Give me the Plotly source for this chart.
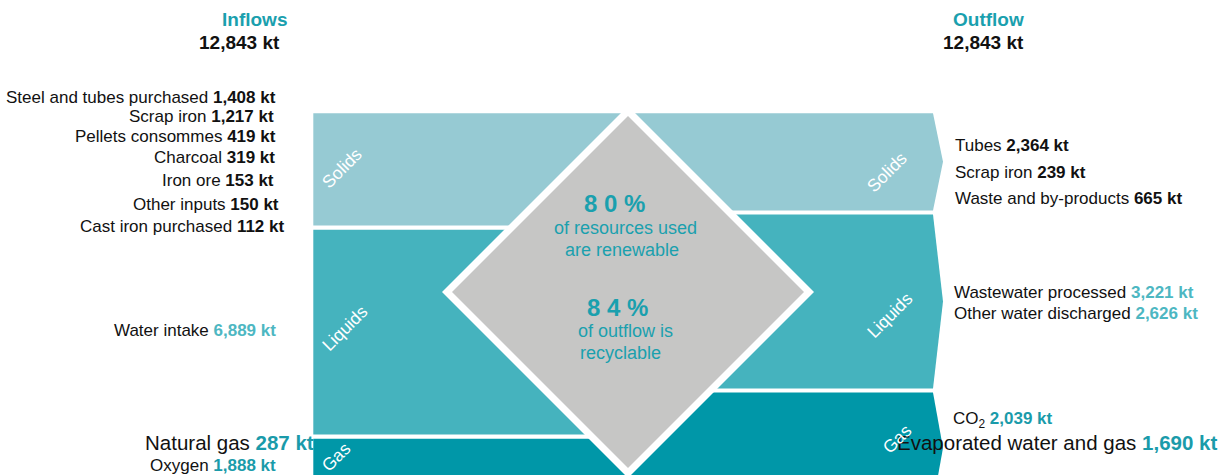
import plotly.graph_objects as go

# ---- Material balance (kt) ----
band_names = ["Solids", "Liquids", "Gas"]

solid_in_labels = ["Steel and tubes purchased", "Scrap iron", "Pellets consommes",
                   "Charcoal", "Iron ore", "Other inputs", "Cast iron purchased"]
solid_in_values = [1408, 1217, 419, 319, 153, 150, 112]
liquid_in_labels = ["Water intake"]
liquid_in_values = [6889]
gas_in_labels = ["Natural gas", "Oxygen"]
gas_in_values = [287, 1888]

solid_out_labels = ["Tubes", "Scrap iron", "Waste and by-products"]
solid_out_values = [2364, 239, 665]
liquid_out_labels = ["Wastewater processed", "Other water discharged"]
liquid_out_values = [3221, 2626]
gas_out_labels = ["CO<sub>2</sub>", "Evaporated water and gas"]
gas_out_values = [2039, 1690]

total_inflows = 12843
total_outflow = 12843
renewable_pct = 80
recyclable_pct = 84

# ---- Styling / layout ----
W, H = 1228, 475
FONT = "Liberation Sans, Arial, sans-serif"
BAND_COLORS = ["#96CAD3", "#45B3BE", "#0097A8"]
VALUE_COLORS = ["#111111", "#4DB7C2", "#1A9BAA"]
TEAL = "#1AA0AE"
GREY = "#C6C6C5"

PX_PER_KT = 0.02972          # band thickness per kt
TOP_PX = 113.3               # top of the band stacks
GAP_PX = 4.2                 # white gap between bands
LEFT_X, MID_X, RIGHT_X, TIP_X = 313.3, 628.0, 933.0, 943.0
DIAMOND_CY = 292.0
DIAMOND_OUTER, DIAMOND_INNER = 186.0, 176.0

gap_kt = GAP_PX / PX_PER_KT


def stack(totals):
    """Return (top, bottom) of each band in kt, stacked downward with gaps."""
    spans, y = [], 0.0
    for t in totals:
        spans.append((y, y + t))
        y += t + gap_kt
    return spans


in_totals = [sum(solid_in_values), sum(liquid_in_values), sum(gas_in_values)]
out_totals = [sum(solid_out_values), sum(liquid_out_values), sum(gas_out_values)]

fig = go.Figure()

# Inflow bands (left, rectangular)
for (y0, y1), col in zip(stack(in_totals), BAND_COLORS):
    fig.add_trace(go.Scatter(
        x=[LEFT_X, MID_X, MID_X, LEFT_X, LEFT_X], y=[y0, y0, y1, y1, y0],
        fill="toself", fillcolor=col, mode="lines", line=dict(width=0),
        hoverinfo="skip", showlegend=False, xaxis="x", yaxis="y"))

# Outflow bands (right, chevron ends)
for (y0, y1), col in zip(stack(out_totals), BAND_COLORS):
    ym = (y0 + y1) / 2
    fig.add_trace(go.Scatter(
        x=[MID_X, RIGHT_X, TIP_X, RIGHT_X, MID_X, MID_X],
        y=[y0, y0, ym, y1, y1, y0],
        fill="toself", fillcolor=col, mode="lines", line=dict(width=0),
        hoverinfo="skip", showlegend=False, xaxis="x", yaxis="y"))

# Central diamond with white border (pixel-space overlay axis)
for r, col in [(DIAMOND_OUTER, "#FFFFFF"), (DIAMOND_INNER, GREY)]:
    fig.add_trace(go.Scatter(
        x=[MID_X - r, MID_X, MID_X + r, MID_X, MID_X - r],
        y=[DIAMOND_CY, DIAMOND_CY - r, DIAMOND_CY, DIAMOND_CY + r, DIAMOND_CY],
        fill="toself", fillcolor=col, mode="lines", line=dict(width=0),
        hoverinfo="skip", showlegend=False, xaxis="x", yaxis="y2"))


def note(x, y, text, size=17, color="#111111", xanchor="center", angle=0):
    fig.add_annotation(x=x, y=y, xref="x", yref="y2", text=text, showarrow=False,
                       xanchor=xanchor, yanchor="middle", textangle=angle,
                       borderpad=0, font=dict(family=FONT, size=size, color=color))


def item(label, value, kind):
    return (f"{label} <span style='color:{VALUE_COLORS[kind]}'>"
            f"<b>{value:,} kt</b></span>")


# Headers
note(254.5, 19, "<b>Inflows</b>", size=19, color=TEAL)
note(239.5, 42, f"<b>{total_inflows:,} kt</b>", size=19)
note(988, 19, "<b>Outflow</b>", size=19, color=TEAL)
note(983.5, 42, f"<b>{total_outflow:,} kt</b>", size=19)

# Inflow labels
solid_in_y = [97, 116, 136, 157, 180, 204, 226]
solid_in_xr = [277, 275, 277, 276, 275, 280, 285]
for lab, val, y, xr in zip(solid_in_labels, solid_in_values, solid_in_y, solid_in_xr):
    note(xr, y, item(lab, val, 0), xanchor="right")
note(277, 330, item(liquid_in_labels[0], liquid_in_values[0], 1), xanchor="right")
note(315, 442, item(gas_in_labels[0], gas_in_values[0], 2), size=20.5, xanchor="right")
note(277, 465, item(gas_in_labels[1], gas_in_values[1], 2), xanchor="right")

# Outflow labels
for lab, val, y in zip(solid_out_labels, solid_out_values, [145, 172, 198]):
    note(954, y, item(lab, val, 0), xanchor="left")
for lab, val, y in zip(liquid_out_labels, liquid_out_values, [292, 313]):
    note(953, y, item(lab, val, 1), xanchor="left")
note(952, 420, item(gas_out_labels[0], gas_out_values[0], 2), xanchor="left")
note(1218, 442, item(gas_out_labels[1], gas_out_values[1], 2), size=20.5, xanchor="right")

# Rotated band names
for name, (x, y) in zip(band_names, [(342, 168), (345, 328), (336, 457)]):
    note(x, y, name, size=17.5, color="#FFFFFF", angle=-45)
for name, (x, y) in zip(band_names, [(887, 172), (890, 315), (897, 439)]):
    note(x, y, name, size=17.5, color="#FFFFFF", angle=-45)

# Diamond texts
pct80 = " ".join(f"{renewable_pct}%")
pct84 = " ".join(f"{recyclable_pct}%")
note(614, 203, f"<b>{pct80}</b>", size=24, color=TEAL)
note(625, 228, "of resources used", size=18, color=TEAL)
note(622, 250, "are renewable", size=18, color=TEAL)
note(617, 307, f"<b>{pct84}</b>", size=24, color=TEAL)
note(625, 331, "of outflow is", size=18, color=TEAL)
note(620, 353, "recyclable", size=18, color=TEAL)

fig.update_layout(
    width=W, height=H, autosize=False,
    margin=dict(l=0, r=0, t=0, b=0),
    paper_bgcolor="#FFFFFF", plot_bgcolor="#FFFFFF",
    showlegend=False,
    xaxis=dict(range=[0, W], visible=False, fixedrange=True),
    yaxis=dict(range=[(H - TOP_PX) / PX_PER_KT, -TOP_PX / PX_PER_KT],
               visible=False, fixedrange=True),
    yaxis2=dict(range=[H, 0], overlaying="y", visible=False, fixedrange=True),
)

fig.write_html("out.html", config={"displayModeBar": False})
